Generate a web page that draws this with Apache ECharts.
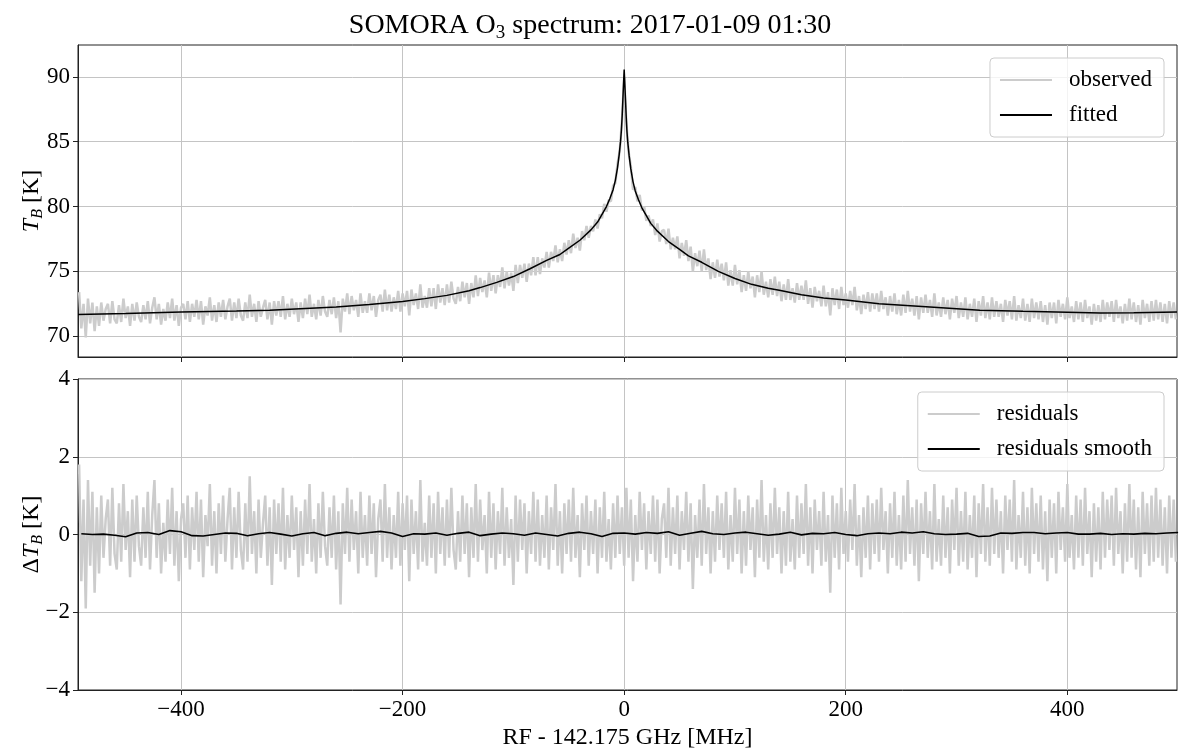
<!DOCTYPE html>
<html>
<head>
<meta charset="utf-8">
<title>SOMORA O3 spectrum</title>
<script src="https://cdn.jsdelivr.net/npm/echarts@6/dist/echarts.min.js"></script>
<style>
  html, body { margin: 0; padding: 0; background: #fff; }
  #chart { width: 1180px; height: 753px; }
</style>
</head>
<body>
<div id="chart"></div>
<script>
// channel grid of the spectrometer (MHz from 142.175 GHz)
const freqStart = -492;
const freqStep = 2;

// observed brightness temperature [K], one value per channel
const observedTB = [
  73.4, 70.6, 72.5, 69.9, 72.9, 71.0, 72.6, 70.4, 72.3, 70.8,
  72.6, 71.2, 72.1, 72.5, 71.0, 72.7, 71.3, 71.0, 72.4, 71.1,
  72.9, 71.4, 72.3, 70.8, 72.5, 71.2, 72.6, 71.5, 71.1, 72.4,
  71.3, 72.7, 71.0, 72.2, 73.0, 71.3, 72.5, 70.9, 72.1, 71.2,
  72.6, 71.4, 72.9, 71.2, 72.4, 70.8, 72.2, 72.5, 71.3, 72.7,
  71.1, 72.5, 71.5, 72.8, 71.3, 72.7, 70.9, 72.3, 71.6, 73.0,
  71.2, 72.4, 71.1, 72.6, 71.5, 72.8, 71.3, 72.3, 72.9, 71.2,
  72.6, 71.4, 72.9, 71.6, 71.2, 72.6, 71.4, 73.2, 71.5, 72.5,
  71.1, 72.7, 71.5, 72.2, 72.8, 71.3, 72.6, 70.9, 72.7, 71.6,
  72.7, 71.5, 73.1, 71.3, 72.5, 71.5, 72.9, 71.7, 72.6, 71.1,
  72.6, 71.4, 72.9, 71.7, 73.2, 71.5, 72.5, 71.3, 72.8, 71.6,
  73.1, 71.9, 71.5, 72.8, 71.7, 73.0, 71.4, 72.7, 70.3, 72.9,
  71.9, 73.3, 71.7, 73.1, 72.0, 72.8, 71.5, 73.3, 71.8, 72.7,
  71.8, 73.3, 72.0, 73.1, 71.5, 72.8, 73.2, 71.9, 73.6, 72.0,
  73.2, 71.9, 73.0, 72.1, 73.5, 71.9, 73.3, 72.3, 73.5, 71.6,
  73.6, 72.4, 73.3, 72.1, 74.0, 72.2, 73.1, 72.2, 73.7, 72.3,
  73.7, 72.1, 74.0, 72.6, 73.7, 72.4, 74.0, 72.6, 74.2, 72.9,
  72.5, 73.8, 72.7, 74.2, 73.0, 74.1, 72.5, 74.1, 73.0, 74.7,
  73.1, 74.5, 73.4, 74.3, 73.0, 74.9, 73.5, 74.7, 73.3, 74.7,
  73.8, 75.3, 73.7, 75.0, 73.9, 74.9, 73.5, 75.5, 74.1, 75.5,
  74.5, 75.6, 74.2, 75.6, 74.7, 76.1, 74.7, 76.1, 74.8, 76.0,
  75.3, 76.5, 75.3, 76.5, 75.8, 77.0, 75.7, 76.7, 75.8, 77.2,
  76.3, 77.4, 76.4, 77.9, 76.8, 77.6, 76.6, 78.1, 77.4, 78.5,
  77.6, 78.5, 78.1, 79.0, 78.3, 79.4, 79.1, 80.2, 79.6, 80.5,
  80.4, 81.6, 81.8, 83.3, 84.3, 86.6, 89.9, 86.4, 84.2, 83.1,
  81.3, 81.5, 80.4, 80.9, 79.7, 80.0, 78.9, 79.3, 78.5, 79.0,
  77.8, 78.7, 77.3, 78.1, 78.2, 77.1, 78.3, 76.7, 77.6, 76.7,
  77.7, 76.0, 77.2, 76.2, 77.4, 75.8, 76.9, 75.0, 76.4, 75.4,
  76.6, 75.0, 76.7, 75.1, 76.0, 74.4, 75.7, 74.5, 75.9, 74.6,
  75.6, 74.3, 75.7, 73.9, 75.1, 73.9, 75.5, 74.0, 75.1, 73.4,
  74.7, 73.5, 75.0, 73.7, 74.6, 73.0, 74.7, 73.4, 75.0, 73.2,
  74.2, 73.0, 74.4, 73.2, 74.6, 73.1, 74.2, 72.7, 74.0, 72.8,
  74.4, 72.8, 73.7, 72.6, 74.1, 72.8, 73.9, 72.8, 74.3, 72.5,
  73.7, 72.2, 73.8, 72.7, 73.5, 72.3, 73.9, 72.3, 73.4, 71.6,
  73.7, 72.4, 73.6, 72.1, 73.8, 72.4, 73.3, 72.2, 73.5, 72.4,
  73.8, 72.0, 73.1, 71.7, 73.2, 72.1, 73.4, 71.9, 73.3, 72.1,
  73.3, 71.9, 73.5, 72.1, 73.0, 71.6, 73.1, 71.9, 73.3, 71.7,
  72.8, 71.6, 73.2, 71.8, 73.5, 71.9, 72.9, 71.6, 73.1, 71.3,
  73.0, 71.8, 73.2, 71.8, 72.8, 71.5, 73.3, 71.6, 72.6, 71.5,
  73.0, 71.7, 72.8, 71.3, 72.9, 71.8, 73.1, 71.4, 72.6, 71.5,
  73.0, 71.3, 72.5, 71.5, 72.9, 71.1, 72.7, 71.6, 73.1, 71.4,
  72.6, 71.3, 73.0, 71.5, 72.7, 71.5, 72.5, 71.1, 72.8, 71.6,
  72.7, 71.3, 73.1, 71.2, 72.4, 71.4, 72.9, 71.2, 72.5, 71.1,
  72.9, 71.4, 72.6, 71.3, 72.7, 71.1, 72.4, 70.9, 72.6, 71.4,
  72.6, 71.0, 72.8, 71.5, 72.5, 71.3, 73.0, 71.4, 72.3, 71.1,
  72.7, 71.3, 72.6, 71.1, 72.8, 71.4, 72.3, 70.9, 72.5, 71.2,
  72.4, 71.1, 72.8, 71.3, 72.6, 71.5, 72.7, 71.1, 72.8, 71.4,
  72.3, 71.0, 72.5, 71.2, 72.9, 71.3, 72.6, 71.1, 72.4, 70.9,
  72.8, 71.4, 72.5, 71.1, 72.7, 71.2, 72.8, 71.3, 72.6, 71.1,
  72.5, 71.0, 72.7, 71.4, 72.6, 71.3
];

// residuals observed - fitted [K], same channels
const residualTB = [
  1.8, -1.2, 0.9, -1.9, 1.4, -0.8, 1.1, -1.5, 0.7, -1.0,
  1.0, -0.6, 0.4, 0.9, -0.8, 1.2, -0.5, -0.9, 0.8, -0.7,
  1.3, -0.4, 0.6, -1.1, 0.9, -0.7, 1.0, -0.3, -0.8, 0.7,
  -0.6, 1.1, -0.9, 0.5, 1.4, -0.6, 0.8, -1.0, 0.3, -0.7,
  0.9, -0.5, 1.2, -0.8, 0.6, -1.2, 0.4, 0.8, -0.6, 1.0,
  -0.9, 0.7, -0.4, 1.1, -0.7, 0.9, -1.1, 0.5, -0.3, 1.3,
  -0.8, 0.6, -1.0, 0.8, -0.5, 1.0, -0.7, 0.4, 1.2, -0.9,
  0.7, -0.6, 1.1, -0.4, -0.9, 0.8, -0.7, 1.5, -0.5, 0.6,
  -1.0, 0.9, -0.6, 0.3, 1.0, -0.8, 0.7, -1.3, 0.9, -0.5,
  0.8, -0.7, 1.2, -0.9, 0.5, -0.6, 1.0, -0.4, 0.7, -1.1,
  0.6, -0.8, 0.9, -0.5, 1.3, -0.7, 0.4, -1.0, 0.8, -0.6,
  1.1, -0.3, -0.8, 0.7, -0.6, 1.0, -0.9, 0.6, -1.8, 0.8,
  -0.5, 1.2, -0.7, 0.9, -0.4, 0.6, -1.0, 1.1, -0.6, 0.5,
  -0.8, 1.0, -0.5, 0.8, -1.1, 0.4, 0.9, -0.7, 1.3, -0.6,
  0.7, -0.9, 0.5, -0.6, 1.1, -0.8, 0.8, -0.4, 1.0, -1.2,
  0.9, -0.5, 0.6, -0.9, 1.4, -0.7, 0.3, -0.8, 1.0, -0.6,
  0.8, -1.0, 1.1, -0.5, 0.7, -0.8, 0.9, -0.6, 1.2, -0.4,
  -0.9, 0.6, -0.7, 1.0, -0.5, 0.8, -1.1, 0.7, -0.6, 1.3,
  -0.7, 0.9, -0.4, 0.5, -1.0, 1.1, -0.6, 0.8, -0.9, 0.6,
  -0.5, 1.2, -0.8, 0.7, -0.6, 0.4, -1.3, 1.0, -0.7, 0.9,
  -0.4, 0.8, -1.0, 0.6, -0.5, 1.1, -0.7, 0.9, -0.8, 0.5,
  -0.6, 1.0, -0.9, 0.7, -0.4, 1.3, -0.8, 0.6, -1.0, 0.8,
  -0.5, 0.9, -0.7, 1.2, -0.6, 0.5, -1.1, 0.8, -0.4, 1.0,
  -0.8, 0.6, -0.5, 0.9, -1.0, 0.7, -0.6, 1.1, -0.7, 0.4,
  -0.9, 0.8, -0.6, 1.0, -0.5, 0.7, -0.8, 1.2, -0.6, 0.9,
  -1.2, 0.5, -0.7, 1.1, -0.4, 0.8, -0.9, 0.6, -0.5, 1.0,
  -0.7, 0.9, -1.0, 0.4, 0.8, -0.6, 1.2, -0.8, 0.7, -0.5,
  1.0, -0.9, 0.6, -0.4, 1.1, -0.7, 0.8, -1.4, 0.5, -0.6,
  0.9, -0.8, 1.3, -0.5, 0.7, -1.0, 0.6, -0.7, 1.0, -0.4,
  0.8, -0.6, 1.1, -0.9, 0.5, -0.7, 1.2, -0.5, 0.9, -1.0,
  0.6, -0.8, 1.0, -0.4, 0.7, -1.1, 0.9, -0.6, 1.4, -0.7,
  0.5, -0.9, 0.8, -0.6, 1.2, -0.5, 0.7, -1.0, 0.6, -0.8,
  1.1, -0.7, 0.4, -0.9, 1.0, -0.6, 0.8, -0.5, 1.3, -0.8,
  0.7, -1.0, 0.9, -0.4, 0.6, -0.8, 1.1, -0.7, 0.5, -1.5,
  1.0, -0.6, 0.8, -0.9, 1.2, -0.5, 0.6, -0.7, 0.9, -0.4,
  1.3, -0.8, 0.5, -1.1, 0.7, -0.6, 1.0, -0.9, 0.8, -0.5,
  0.9, -0.7, 1.2, -0.4, 0.6, -1.0, 0.8, -0.6, 1.1, -0.8,
  0.5, -0.9, 1.0, -0.7, 1.4, -0.5, 0.7, -0.8, 0.9, -1.2,
  0.8, -0.5, 1.1, -0.6, 0.6, -0.9, 1.3, -0.7, 0.4, -0.8,
  1.0, -0.6, 0.7, -1.0, 0.9, -0.4, 1.2, -0.8, 0.6, -0.7,
  1.1, -0.9, 0.5, -0.6, 1.0, -1.1, 0.8, -0.5, 1.3, -0.7,
  0.7, -0.8, 1.2, -0.5, 0.9, -0.6, 0.6, -1.0, 1.0, -0.4,
  0.9, -0.7, 1.4, -0.9, 0.5, -0.6, 1.1, -0.8, 0.7, -1.0,
  1.2, -0.5, 0.8, -0.7, 1.0, -0.9, 0.6, -1.2, 0.9, -0.6,
  0.8, -1.0, 1.1, -0.4, 0.7, -0.7, 1.3, -0.6, 0.5, -0.9,
  1.0, -0.6, 0.9, -0.8, 1.2, -0.5, 0.6, -1.1, 0.8, -0.7,
  0.7, -0.9, 1.1, -0.6, 0.9, -0.4, 1.0, -0.8, 1.2, -0.5,
  0.6, -1.0, 0.8, -0.7, 1.3, -0.6, 0.9, -0.9, 0.7, -1.1,
  1.1, -0.5, 0.8, -0.8, 1.0, -0.7, 1.2, -0.6, 0.9, -0.8,
  0.7, -1.0, 1.0, -0.6, 0.9, -0.7
];

// fitted spectrum
const fitFreq = [
  -493, -450, -400, -350, -320, -260, -230, -200, -180, -160,
  -140, -130, -115, -100, -85, -70, -58, -50, -40, -30,
  -24, -20, -16, -13, -10, -8, -6, -4.5, -3.3, -2.5,
  -1.8, -1.2, -0.7, -0.3, 0, 0.3, 0.7, 1.2, 1.8, 2.5,
  3.3, 4.5, 6, 8, 10, 13, 16, 20, 24, 30,
  40, 50, 58, 70, 85, 100, 115, 130, 140, 160,
  180, 200, 230, 276, 321, 360, 400, 430, 460, 499
];
const fitTB = [
  71.67, 71.75, 71.87, 71.95, 72.0, 72.25, 72.44, 72.68, 72.9, 73.15,
  73.5, 73.75, 74.15, 74.6, 75.2, 75.85, 76.3, 76.8, 77.4, 78.2,
  78.8, 79.4, 80.0, 80.6, 81.3, 82.0, 83.0, 84.0, 85.0, 85.9,
  87.0, 88.2, 89.2, 90.0, 90.55, 90.0, 89.2, 88.2, 87.0, 85.8,
  84.9, 83.9, 82.9, 81.9, 81.2, 80.5, 79.9, 79.3, 78.7, 78.1,
  77.3, 76.7, 76.2, 75.7, 75.0, 74.45, 74.0, 73.7, 73.55, 73.2,
  72.95, 72.8, 72.5, 72.25, 72.0, 71.92, 71.85, 71.8, 71.82, 71.87
];

// smoothed residuals, every 10 MHz
const smoothStart = -490;
const smoothStep = 10;
const residualSmooth = [
  0.02, 0.0, 0.01, -0.02, -0.06, 0.04, 0.05, 0.0, 0.1, 0.07,
  -0.03, -0.04, 0.0, 0.04, 0.03, -0.03, 0.02, 0.05, 0.01, -0.04,
  0.02, 0.05, -0.03, 0.03, 0.06, 0.02, 0.05, 0.08, 0.04, -0.05,
  0.02, 0.01, 0.04, -0.02, 0.03, 0.06, -0.03, 0.01, 0.04, 0.02,
  -0.02, 0.04, 0.0, -0.04, 0.03, 0.06, 0.02, -0.05, 0.03, 0.04,
  0.01, 0.05, 0.03, 0.07, -0.02, 0.03, 0.08, 0.02, 0.0, 0.04,
  0.06, 0.02, -0.02, 0.01, 0.06, -0.01, 0.03, 0.02, 0.05, 0.0,
  -0.03, 0.02, 0.04, 0.02, 0.06, 0.04, 0.07, 0.02, 0.0, 0.01,
  0.03, -0.05, -0.04, 0.04, 0.03, 0.05, 0.05, 0.02, 0.04, 0.05,
  0.01, 0.01, 0.03, 0.0, 0.02, 0.01, 0.03, 0.02, 0.04, 0.05
];

const freqTicks = [-400, -200, 0, 200, 400];
const tbTicks = [70, 75, 80, 85, 90];

const serif = '"Liberation Serif", "DejaVu Serif", serif';
const minus = v => String(v).replace('-', '\u2212');
const gray = '#cccccc';
const ink = '#222';

const channelPairs = arr => arr.map((v, i) => [freqStart + i * freqStep, v]);

const nameRich = {
  it: { fontStyle: 'italic', fontFamily: serif, fontSize: 24, lineHeight: 28, color: '#000' },
  sub: { fontStyle: 'italic', fontFamily: serif, fontSize: 16, lineHeight: 16, verticalAlign: 'bottom', color: '#000' }
};

const xAxisBase = (gridIndex, showLabels) => ({
  type: 'value',
  gridIndex,
  min: -493,
  max: 499,
  axisLine: { show: true, onZero: false, lineStyle: { color: ink } },
  axisTick: { show: true, length: 5, customValues: freqTicks, lineStyle: { color: ink } },
  axisLabel: {
    show: showLabels, customValues: freqTicks, formatter: minus,
    fontFamily: serif, fontSize: 23, color: '#000', margin: 8
  },
  splitLine: { show: true, lineStyle: { color: '#c4c4c4', width: 1 } }
});

const yName = text => ({
  name: text,
  nameLocation: 'middle',
  nameGap: 32,
  nameRotate: 90,
  nameMoveOverlap: false,
  nameTextStyle: { fontFamily: serif, fontSize: 24, color: '#000', lineHeight: 28, rich: nameRich }
});

const legendBase = {
  orient: 'vertical',
  right: 16,
  icon: 'rect',
  itemWidth: 52,
  itemHeight: 2,
  itemGap: 9,
  padding: [9, 12, 9, 10],
  backgroundColor: 'rgba(255,255,255,0.8)',
  borderColor: '#cccccc',
  borderWidth: 1,
  borderRadius: 4,
  textStyle: { fontFamily: serif, fontSize: 23, color: '#000', lineHeight: 26, padding: [0, 0, 0, 12] }
};

const noiseLine = { color: gray, width: 2.5, join: 'bevel' };

const chart = echarts.init(document.getElementById('chart'));

chart.setOption({
  animation: false,
  backgroundColor: '#fff',
  title: {
    text: 'SOMORA O{sub|3} spectrum: 2017-01-09 01:30',
    left: 'center',
    top: 4,
    textStyle: {
      fontFamily: serif, fontSize: 28, fontWeight: 'normal', color: '#000', lineHeight: 34,
      rich: { sub: { fontFamily: serif, fontSize: 19, lineHeight: 19, verticalAlign: 'bottom', color: '#000' } }
    }
  },
  legend: [
    Object.assign({}, legendBase, { top: 58, data: ['observed', 'fitted'] }),
    Object.assign({}, legendBase, { top: 392, data: ['residuals', 'residuals smooth'] })
  ],
  grid: [
    { left: 78, right: 3, top: 45, height: 312, show: true, borderColor: ink, borderWidth: 1 },
    { left: 78, right: 3, top: 379, height: 311, show: true, borderColor: ink, borderWidth: 1 }
  ],
  xAxis: [
    xAxisBase(0, false),
    Object.assign(xAxisBase(1, true), {
      name: 'RF - 142.175 GHz [MHz]',
      nameLocation: 'middle',
      nameGap: 36,
      nameTextStyle: { fontFamily: serif, fontSize: 24, color: '#000' }
    })
  ],
  yAxis: [
    Object.assign({
      type: 'value', gridIndex: 0, min: 68.4, max: 92.45,
      axisLine: { show: true, onZero: false, lineStyle: { color: ink } },
      axisTick: { show: true, length: 5, customValues: tbTicks, lineStyle: { color: ink } },
      axisLabel: { customValues: tbTicks, fontFamily: serif, fontSize: 23, color: '#000', margin: 8 },
      splitLine: { show: true, lineStyle: { color: '#c4c4c4', width: 1 } }
    }, yName('{it|T}{sub|B} [K]')),
    Object.assign({
      type: 'value', gridIndex: 1, min: -4, max: 4, interval: 2,
      axisLine: { show: true, onZero: false, lineStyle: { color: ink } },
      axisTick: { show: true, length: 5, lineStyle: { color: ink } },
      axisLabel: { formatter: minus, fontFamily: serif, fontSize: 23, color: '#000', margin: 8 },
      splitLine: { show: true, lineStyle: { color: '#c4c4c4', width: 1 } }
    }, yName('\u0394{it|T}{sub|B} [K]'))
  ],
  series: [
    {
      name: 'observed', type: 'line', xAxisIndex: 0, yAxisIndex: 0,
      data: channelPairs(observedTB), symbol: 'none', color: gray,
      lineStyle: noiseLine, z: 2
    },
    {
      name: 'fitted', type: 'line', xAxisIndex: 0, yAxisIndex: 0,
      data: fitFreq.map((f, i) => [f, fitTB[i]]), symbol: 'none', color: '#000',
      lineStyle: { color: '#000', width: 1.5 }, z: 3
    },
    {
      name: 'residuals', type: 'line', xAxisIndex: 1, yAxisIndex: 1,
      data: channelPairs(residualTB), symbol: 'none', color: gray,
      lineStyle: noiseLine, z: 2
    },
    {
      name: 'residuals smooth', type: 'line', xAxisIndex: 1, yAxisIndex: 1,
      data: residualSmooth.map((v, i) => [smoothStart + i * smoothStep, v]), symbol: 'none', color: '#000',
      lineStyle: { color: '#000', width: 1.6 }, z: 3
    }
  ]
});
</script>
</body>
</html>
